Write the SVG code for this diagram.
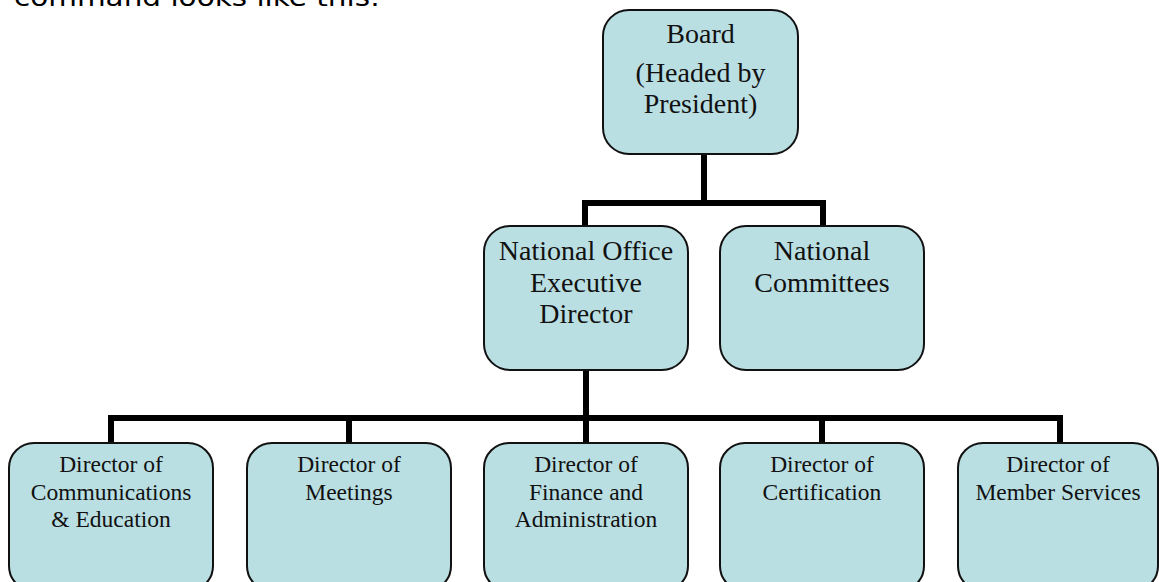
<svg xmlns="http://www.w3.org/2000/svg" width="1159" height="582" viewBox="0 0 1159 582">
  <style>
    .box { fill: #BADFE3; stroke: #111; stroke-width: 2; }
    .lbl { font-family: "Liberation Serif", "Times New Roman", serif; fill: #111; text-anchor: middle; }
    .big { font-size: 28px; }
    .small { font-size: 23.5px; }
    .conn { stroke: #000; stroke-width: 6; fill: none; stroke-linecap: square; stroke-linejoin: miter; }
  </style>
  <rect width="1159" height="582" fill="#fff"/>
  <text x="14" y="6" font-family="'DejaVu Sans', 'Liberation Sans', sans-serif" font-size="24" fill="#000" textLength="366" lengthAdjust="spacingAndGlyphs">command looks like this:</text>

  <g id="connectors">
    <path class="conn" d="M704 154 V203 M585 203 H823 M585 203 V226 M823 203 V226"/>
    <path class="conn" d="M586 370 V418 M111 418 H1060 M111 418 V443 M349 418 V443 M586 418 V443 M822 418 V443 M1060 418 V443"/>
  </g>

  <g id="board">
    <rect class="box" x="603" y="10" width="195" height="144" rx="26"/>
    <text class="lbl big" x="700.5" y="43">Board</text>
    <text class="lbl big" x="700.5" y="82">(Headed by</text>
    <text class="lbl big" x="700.5" y="113">President)</text>
  </g>

  <g id="national-office">
    <rect class="box" x="484" y="226" width="204" height="144" rx="26"/>
    <text class="lbl big" x="586" y="260">National Office</text>
    <text class="lbl big" x="586" y="292">Executive</text>
    <text class="lbl big" x="586" y="323">Director</text>
  </g>

  <g id="national-committees">
    <rect class="box" x="720" y="226" width="204" height="144" rx="26"/>
    <text class="lbl big" x="822" y="260">National</text>
    <text class="lbl big" x="822" y="292">Committees</text>
  </g>

  <g id="dir-communications">
    <rect class="box" x="9" y="443" width="204" height="148" rx="25"/>
    <text class="lbl small" x="111" y="472">Director of</text>
    <text class="lbl small" x="111" y="500">Communications</text>
    <text class="lbl small" x="111" y="527">&amp; Education</text>
  </g>

  <g id="dir-meetings">
    <rect class="box" x="247" y="443" width="204" height="148" rx="25"/>
    <text class="lbl small" x="349" y="472">Director of</text>
    <text class="lbl small" x="349" y="500">Meetings</text>
  </g>

  <g id="dir-finance">
    <rect class="box" x="484" y="443" width="204" height="148" rx="25"/>
    <text class="lbl small" x="586" y="472">Director of</text>
    <text class="lbl small" x="586" y="500">Finance and</text>
    <text class="lbl small" x="586" y="527">Administration</text>
  </g>

  <g id="dir-certification">
    <rect class="box" x="720" y="443" width="204" height="148" rx="25"/>
    <text class="lbl small" x="822" y="472">Director of</text>
    <text class="lbl small" x="822" y="500">Certification</text>
  </g>

  <g id="dir-member-services">
    <rect class="box" x="958" y="443" width="200" height="148" rx="25"/>
    <text class="lbl small" x="1058" y="472">Director of</text>
    <text class="lbl small" x="1058" y="500">Member Services</text>
  </g>
</svg>
